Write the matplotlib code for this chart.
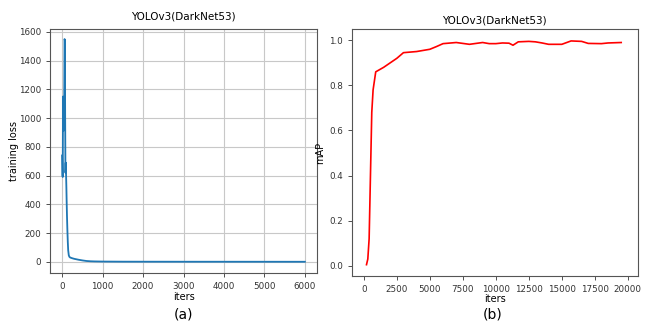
import matplotlib
matplotlib.use('Agg')
import matplotlib.pyplot as plt

# training loss curve (a)
loss_iters = [0, 8, 15, 22, 30, 38, 45, 52, 60, 68, 75, 82, 90, 98, 105, 112, 120, 130, 140,
              150, 165, 180, 200, 250, 300, 400, 500, 600, 700, 800, 1000, 1500, 2000,
              3000, 4000, 5000, 6000]
loss_vals = [740, 600, 590, 1150, 910, 1140, 930, 1150, 1550, 1540, 1000, 620, 690, 600, 520,
             420, 320, 220, 140, 80, 45, 35, 30, 25, 21, 15, 10, 6, 4, 3, 2, 1.2, 1.0,
             0.8, 0.7, 0.6, 0.5]

# mAP curve (b)
map_iters = [200, 300, 400, 500, 600, 700, 900, 1500, 2000, 2500, 3000, 4000, 5000, 5500,
             6000, 7000, 8000, 9000, 9500, 10000, 10500, 11000, 11300, 11700, 12500, 13000,
             13500, 14000, 15000, 15700, 16500, 17000, 18000, 18500, 19500]
map_vals = [0.005, 0.03, 0.12, 0.40, 0.68, 0.78, 0.86, 0.88, 0.90, 0.92, 0.945, 0.95, 0.96,
            0.972, 0.985, 0.99, 0.982, 0.99, 0.985, 0.985, 0.988, 0.987, 0.978, 0.993, 0.995,
            0.993, 0.988, 0.982, 0.982, 0.997, 0.995, 0.986, 0.985, 0.988, 0.99]

title = 'YOLOv3(DarkNet53)'
fs = 7

fig = plt.figure(figsize=(6.45, 3.22), dpi=100)

ax1 = fig.add_axes([0.0775, 0.152, 0.414, 0.758])
ax1.plot(loss_iters, loss_vals, color='#1f77b4', lw=1.3)
ax1.set_xlim(-300, 6300)
ax1.set_ylim(-78, 1620)
ax1.set_xticks(range(0, 6001, 1000))
ax1.set_yticks(range(0, 1601, 200))
ax1.grid(True, color='#c8c8c8', lw=0.8)
ax1.set_title(title, fontsize=7.5, pad=7)
ax1.set_xlabel('iters', fontsize=fs, labelpad=1)
ax1.set_ylabel('training loss', fontsize=fs, labelpad=0)

ax2 = fig.add_axes([0.5457, 0.143, 0.443, 0.767])
ax2.plot(map_iters, map_vals, color='red', lw=1.2)
ax2.set_xlim(-900, 20750)
ax2.set_ylim(-0.045, 1.05)
ax2.set_xticks(range(0, 20001, 2500))
ax2.set_yticks([0.0, 0.2, 0.4, 0.6, 0.8, 1.0])
ax2.set_title(title, fontsize=7.5, pad=4)
ax2.set_xlabel('iters', fontsize=fs, labelpad=0)
ax2.set_ylabel('mAP', fontsize=fs, labelpad=3)

for ax in (ax1, ax2):
    ax.tick_params(labelsize=6.3, colors='#333333', length=3, width=0.6)
    for s in ax.spines.values():
        s.set_color('#555555')
        s.set_linewidth(0.8)

fig.text(0.284, 0.012, '(a)', fontsize=10, ha='center')
fig.text(0.764, 0.012, '(b)', fontsize=10, ha='center')

fig.savefig('out.png', dpi=100)
